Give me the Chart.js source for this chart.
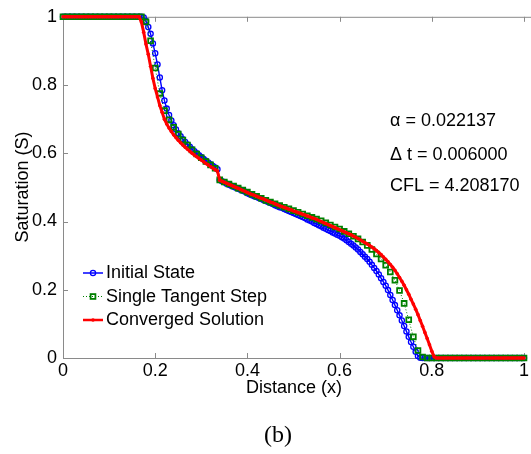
<!DOCTYPE html>
<html>
<head>
<meta charset="utf-8">
<script src="https://cdn.jsdelivr.net/npm/chart.js@4.4.1/dist/chart.umd.min.js"></script>
<style>
  html, body { margin: 0; padding: 0; background: #ffffff; overflow: hidden; }
  #wrap { position: relative; width: 531px; height: 454px; overflow: hidden; }
  canvas { display: block; }
</style>
</head>
<body>
<div id="wrap"><canvas id="c" width="531" height="454"></canvas></div>
<script>
// Cell positions (fine grid, dx = 0.005)
const gridFine = [
  0,0.005,0.01,0.015,0.02,0.025,0.03,0.035,0.04,0.045,0.05,0.055,0.06,0.065,0.07,0.075,0.08,0.085,0.09,0.095,
  0.1,0.105,0.11,0.115,0.12,0.125,0.13,0.135,0.14,0.145,0.15,0.155,0.16,0.165,0.17,0.175,0.18,0.185,0.19,0.195,
  0.2,0.205,0.21,0.215,0.22,0.225,0.23,0.235,0.24,0.245,0.25,0.255,0.26,0.265,0.27,0.275,0.28,0.285,0.29,0.295,
  0.3,0.305,0.31,0.315,0.32,0.325,0.33,0.335,0.34,0.345,0.35,0.355,0.36,0.365,0.37,0.375,0.38,0.385,0.39,0.395,
  0.4,0.405,0.41,0.415,0.42,0.425,0.43,0.435,0.44,0.445,0.45,0.455,0.46,0.465,0.47,0.475,0.48,0.485,0.49,0.495,
  0.5,0.505,0.51,0.515,0.52,0.525,0.53,0.535,0.54,0.545,0.55,0.555,0.56,0.565,0.57,0.575,0.58,0.585,0.59,0.595,
  0.6,0.605,0.61,0.615,0.62,0.625,0.63,0.635,0.64,0.645,0.65,0.655,0.66,0.665,0.67,0.675,0.68,0.685,0.69,0.695,
  0.7,0.705,0.71,0.715,0.72,0.725,0.73,0.735,0.74,0.745,0.75,0.755,0.76,0.765,0.77,0.775,0.78,0.785,0.79,0.795,
  0.8,0.805,0.81,0.815,0.82,0.825,0.83,0.835,0.84,0.845,0.85,0.855,0.86,0.865,0.87,0.875,0.88,0.885,0.89,0.895,
  0.9,0.905,0.91,0.915,0.92,0.925,0.93,0.935,0.94,0.945,0.95,0.955,0.96,0.965,0.97,0.975,0.98,0.985,0.99,0.995,
  1
];

// Cell positions (coarse grid, dx = 0.01)
const gridCoarse = [
  0,0.01,0.02,0.03,0.04,0.05,0.06,0.07,0.08,0.09,
  0.1,0.11,0.12,0.13,0.14,0.15,0.16,0.17,0.18,0.19,
  0.2,0.21,0.22,0.23,0.24,0.25,0.26,0.27,0.28,0.29,
  0.3,0.31,0.32,0.33,0.34,0.35,0.36,0.37,0.38,0.39,
  0.4,0.41,0.42,0.43,0.44,0.45,0.46,0.47,0.48,0.49,
  0.5,0.51,0.52,0.53,0.54,0.55,0.56,0.57,0.58,0.59,
  0.6,0.61,0.62,0.63,0.64,0.65,0.66,0.67,0.68,0.69,
  0.7,0.71,0.72,0.73,0.74,0.75,0.76,0.77,0.78,0.79,
  0.8,0.81,0.82,0.83,0.84,0.85,0.86,0.87,0.88,0.89,
  0.9,0.91,0.92,0.93,0.94,0.95,0.96,0.97,0.98,0.99,
  1
];

// Saturation, initial state (fine grid)
const initialState = [
  1,1,1,1,1,1,1,1,1,1,1,1,1,1,1,1,1,1,1,1,
  1,1,1,1,1,1,1,1,1,1,1,1,1,1,1,0.998,0.988,0.970,0.950,0.922,
  0.893,0.860,0.822,0.785,0.755,0.731,0.712,0.696,0.682,0.670,0.659,0.650,0.641,0.633,0.626,0.619,0.612,0.606,0.600,0.594,
  0.589,0.583,0.578,0.573,0.568,0.563,0.558,0.553,0.522,0.518,0.515,0.511,0.508,0.505,0.502,0.499,0.496,0.493,0.490,0.487,
  0.483,0.480,0.477,0.474,0.472,0.469,0.466,0.463,0.460,0.457,0.454,0.451,0.448,0.445,0.442,0.440,0.437,0.434,0.431,0.428,
  0.425,0.422,0.419,0.416,0.413,0.410,0.406,0.403,0.400,0.396,0.393,0.389,0.386,0.382,0.379,0.375,0.372,0.368,0.365,0.361,
  0.358,0.354,0.350,0.345,0.340,0.335,0.330,0.324,0.318,0.311,0.304,0.297,0.290,0.282,0.273,0.264,0.255,0.245,0.234,0.223,
  0.212,0.199,0.185,0.170,0.155,0.140,0.125,0.110,0.094,0.078,0.062,0.047,0.033,0.018,0.006,0.001,0,0,0,0,
  0,0,0,0,0,0,0,0,0,0,0,0,0,0,0,0,0,0,0,0,
  0,0,0,0,0,0,0,0,0,0,0,0,0,0,0,0,0,0,0,0,
  0
];

// Saturation after a single tangent step (coarse grid)
const tangentStep = [
  1,1,1,1,1,1,1,1,1,1,
  1,1,1,1,1,1,1,1,0.985,0.93,
  0.85,0.775,0.725,0.698,0.676,0.656,0.639,0.624,0.610,0.598,
  0.587,0.576,0.566,0.556,0.522,0.516,0.510,0.504,0.498,0.492,
  0.486,0.480,0.474,0.468,0.462,0.457,0.452,0.447,0.442,0.437,
  0.432,0.427,0.422,0.417,0.412,0.407,0.402,0.396,0.390,0.384,
  0.378,0.371,0.364,0.357,0.349,0.340,0.330,0.318,0.305,0.290,
  0.272,0.252,0.228,0.198,0.160,0.112,0.062,0.022,0.003,0,
  0,0,0,0,0,0,0,0,0,0,
  0,0,0,0,0,0,0,0,0,0,
  0
];

// Saturation, converged solution (fine grid)
const converged = [
  1,1,1,1,1,1,1,1,1,1,1,1,1,1,1,1,1,1,1,1,
  1,1,1,1,1,1,1,1,1,1,1,1,1,1,0.985,0.955,0.92,0.89,0.855,0.82,
  0.79,0.765,0.74,0.72,0.70,0.686,0.674,0.664,0.654,0.646,0.638,0.631,0.624,0.618,0.612,0.606,0.600,0.595,0.590,0.585,
  0.580,0.575,0.570,0.566,0.561,0.557,0.552,0.548,0.521,0.518,0.515,0.512,0.509,0.506,0.503,0.500,0.497,0.494,0.491,0.488,
  0.485,0.482,0.479,0.477,0.474,0.471,0.468,0.466,0.463,0.460,0.457,0.455,0.452,0.449,0.446,0.444,0.441,0.439,0.436,0.434,
  0.431,0.429,0.426,0.424,0.421,0.419,0.416,0.414,0.411,0.409,0.406,0.403,0.400,0.397,0.394,0.391,0.388,0.385,0.382,0.379,
  0.376,0.373,0.370,0.367,0.364,0.361,0.357,0.354,0.350,0.346,0.342,0.338,0.334,0.330,0.325,0.320,0.315,0.309,0.303,0.296,
  0.289,0.282,0.274,0.266,0.257,0.247,0.236,0.225,0.213,0.200,0.187,0.172,0.158,0.143,0.127,0.110,0.093,0.075,0.057,0.039,
  0.020,0.004,0,0,0,0,0,0,0,0,0,0,0,0,0,0,0,0,0,0,
  0,0,0,0,0,0,0,0,0,0,0,0,0,0,0,0,0,0,0,0,
  0
];

const xTickValues = [0, 0.2, 0.4, 0.6, 0.8, 1];
const yTickValues = [0, 0.2, 0.4, 0.6, 0.8, 1];
const seriesNames = ['Initial State', 'Single Tangent Step', 'Converged Solution'];
const annotationLines = ['\u03B1 = 0.022137', '\u0394 t = 0.006000', 'CFL = 4.208170'];
const xTitle = 'Distance (x)';
const yTitle = 'Saturation (S)';
const caption = '(b)';

// ---- layout & style ----
const W = 531, H = 454;
const PLOT = { left: 63, top: 16, right: 525, bottom: 358 };
const FONT = '"Liberation Sans", Arial, Helvetica, sans-serif';
const SERIF = '"Liberation Serif", "Times New Roman", serif';
const AXIS = '#8a8a8a';
const TICK = 5;
const BLUE = '#0000ff', GREEN = '#008000', RED = '#ff0000';

const pairs = (xs, ys) => xs.map((x, i) => ({ x: x, y: ys[i] }));

// Box edge on top + inward tick marks
const framePlugin = {
  id: 'frame',
  beforeDatasetsDraw(chart) {
    const { ctx, chartArea: a, scales } = chart;
    ctx.save();
    ctx.strokeStyle = AXIS;
    ctx.lineWidth = 1;
    ctx.beginPath();
    ctx.moveTo(a.left, a.top + 0.5);
    ctx.lineTo(W + 10, a.top + 0.5);
    xTickValues.forEach(v => {
      const px = Math.round(scales.x.getPixelForValue(v)) + 0.5;
      ctx.moveTo(px, a.bottom);
      ctx.lineTo(px, a.bottom - TICK);
      ctx.moveTo(px, a.top);
      ctx.lineTo(px, a.top + TICK);
    });
    yTickValues.forEach(v => {
      const py = Math.round(scales.y.getPixelForValue(v)) + 0.5;
      ctx.moveTo(a.left, py);
      ctx.lineTo(a.left + TICK, py);
    });
    ctx.stroke();
    ctx.restore();
  }
};

function drawMarker(ctx, kind, x, y) {
  ctx.save();
  if (kind === 'circle') {
    ctx.strokeStyle = BLUE; ctx.lineWidth = 1.3;
    ctx.beginPath(); ctx.arc(x, y, 2.6, 0, Math.PI * 2); ctx.stroke();
  } else if (kind === 'rect') {
    ctx.strokeStyle = GREEN; ctx.lineWidth = 1.8;
    ctx.strokeRect(x - 2.4, y - 2.4, 4.8, 4.8);
  } else {
    ctx.fillStyle = RED;
    ctx.beginPath(); ctx.arc(x, y, 1.8, 0, Math.PI * 2); ctx.fill();
  }
  ctx.restore();
}

// Titles, legend, parameter annotations and caption
const textPlugin = {
  id: 'texts',
  afterDraw(chart) {
    const { ctx } = chart;
    ctx.save();
    ctx.fillStyle = '#000';
    ctx.font = '18px ' + FONT;
    ctx.textBaseline = 'middle';

    ctx.textAlign = 'center';
    ctx.fillText(xTitle, (PLOT.left + PLOT.right) / 2, 388);

    ctx.save();
    ctx.translate(23, (PLOT.top + PLOT.bottom) / 2);
    ctx.rotate(-Math.PI / 2);
    ctx.fillText(yTitle, 0, 0);
    ctx.restore();

    ctx.textAlign = 'left';
    const annY = [121, 155, 186];
    annotationLines.forEach((t, i) => ctx.fillText(t, 390, annY[i]));

    // legend
    const legY = [273, 296.5, 320];
    const styles = [
      { color: BLUE, width: 1.5, dash: [], marker: 'circle' },
      { color: GREEN, width: 1, dash: [1, 2], marker: 'rect' },
      { color: RED, width: 2.5, dash: [], marker: 'dot' }
    ];
    seriesNames.forEach((name, i) => {
      const s = styles[i];
      const y = legY[i];
      ctx.save();
      ctx.strokeStyle = s.color; ctx.lineWidth = s.width; ctx.setLineDash(s.dash);
      ctx.beginPath(); ctx.moveTo(83, y); ctx.lineTo(103, y); ctx.stroke();
      ctx.restore();
      drawMarker(ctx, s.marker, 93, y);
      ctx.fillStyle = '#000';
      ctx.fillText(name, 106, y + 0.5);
    });

    ctx.textAlign = 'center';
    ctx.font = '24px ' + SERIF;
    ctx.fillText(caption, 278, 436);
    ctx.restore();
  }
};

const tickFont = { family: FONT, size: 18 };

new Chart(document.getElementById('c'), {
  type: 'line',
  data: {
    datasets: [
      {
        label: seriesNames[0],
        data: pairs(gridFine, initialState),
        borderColor: BLUE, borderWidth: 1.4,
        pointStyle: 'circle', pointRadius: 2.6, pointBorderWidth: 1.3,
        pointBorderColor: BLUE, pointBackgroundColor: 'rgba(255,255,255,0)',
        tension: 0, clip: false, order: 3
      },
      {
        label: seriesNames[1],
        data: pairs(gridCoarse, tangentStep),
        borderColor: GREEN, borderWidth: 1, borderDash: [1, 2],
        pointStyle: 'rect', pointRadius: 3.4, pointBorderWidth: 1.8,
        pointBorderColor: GREEN, pointBackgroundColor: 'rgba(255,255,255,0)',
        tension: 0, clip: false, order: 2
      },
      {
        label: seriesNames[2],
        data: pairs(gridFine, converged),
        borderColor: RED, borderWidth: 3,
        pointStyle: 'circle', pointRadius: 1.8, pointBorderWidth: 0,
        pointBackgroundColor: RED,
        tension: 0, clip: false, order: 1
      }
    ]
  },
  options: {
    responsive: false,
    animation: false,
    devicePixelRatio: 1,
    events: [],
    layout: { padding: { left: 0, top: PLOT.top, right: W - PLOT.right, bottom: 0 } },
    plugins: { legend: { display: false }, tooltip: { enabled: false } },
    scales: {
      x: {
        type: 'linear', min: 0, max: 1,
        afterFit(s) { s.height = H - PLOT.bottom; },
        afterBuildTicks(s) { s.ticks = xTickValues.map(v => ({ value: v })); },
        grid: { display: false, drawTicks: false },
        border: { display: true, color: AXIS, width: 1 },
        ticks: { font: tickFont, color: '#000', padding: 2, maxRotation: 0, autoSkip: false,
                 callback: v => String(v) }
      },
      y: {
        type: 'linear', min: 0, max: 1,
        afterFit(s) { s.width = PLOT.left; },
        afterBuildTicks(s) { s.ticks = yTickValues.map(v => ({ value: v })); },
        grid: { display: false, drawTicks: false },
        border: { display: true, color: AXIS, width: 1 },
        ticks: { font: tickFont, color: '#000', padding: 6, autoSkip: false,
                 callback: v => String(v) }
      }
    }
  },
  plugins: [framePlugin, textPlugin]
});
</script>
</body>
</html>
